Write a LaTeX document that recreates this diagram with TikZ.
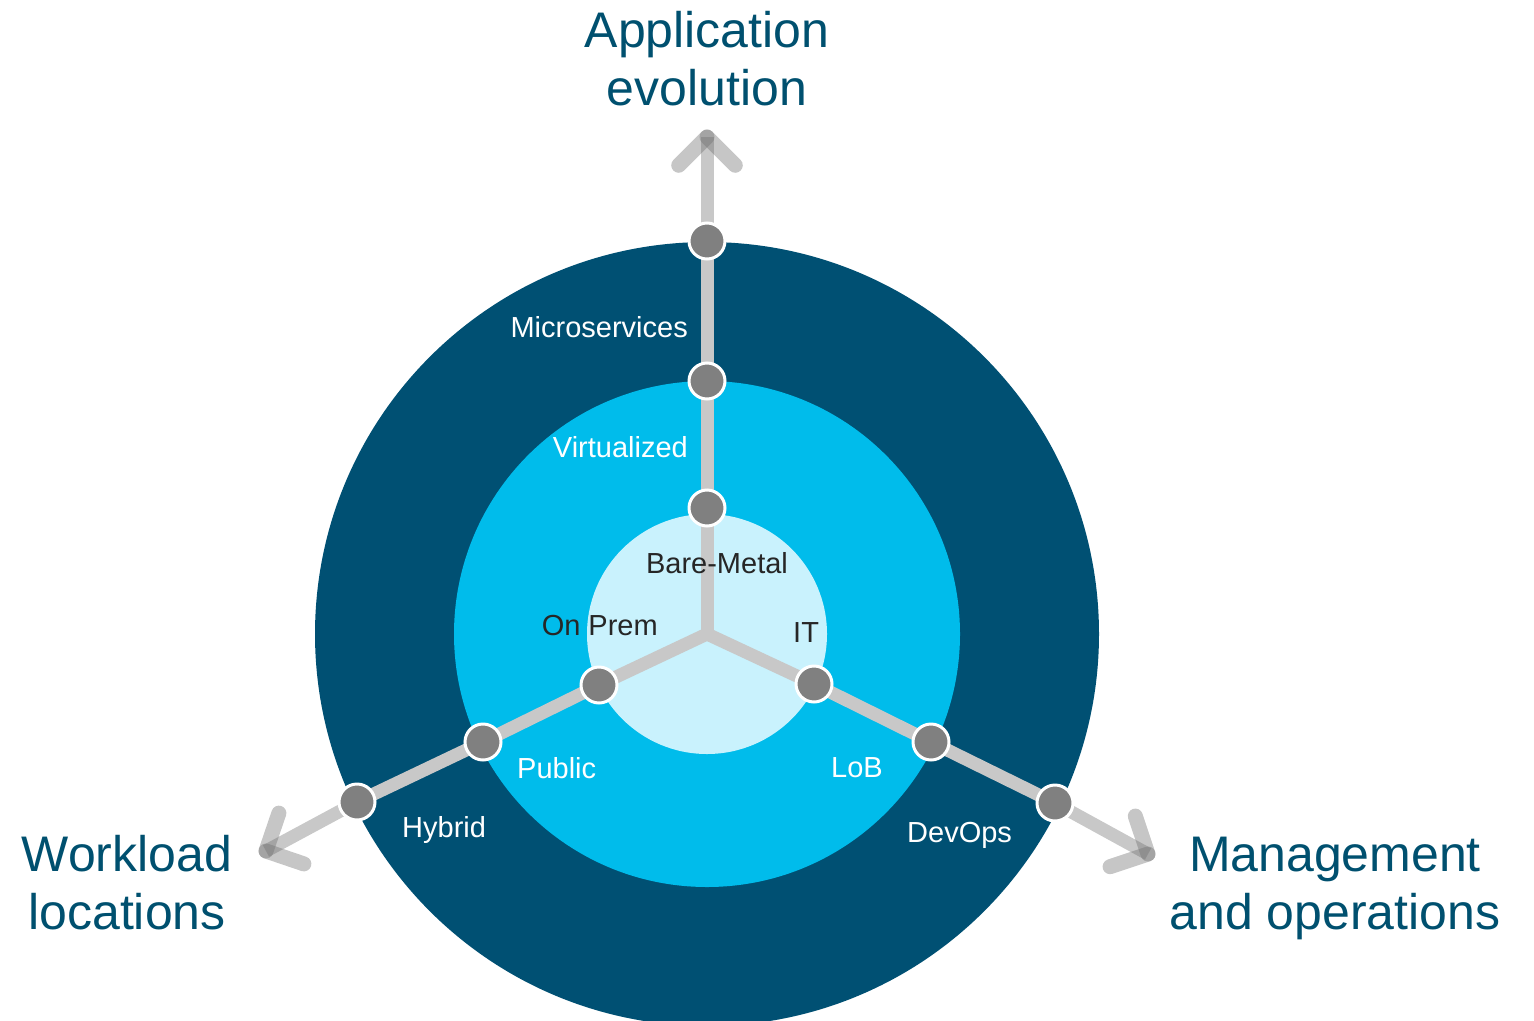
\documentclass[tikz,border=0pt]{standalone}
\usepackage{fontspec}
\setmainfont{Liberation Sans}
\usetikzlibrary{calc}
\definecolor{outerblue}{HTML}{005073}
\definecolor{midblue}{HTML}{00BCEB}
\definecolor{innerblue}{HTML}{C9F2FD}
\definecolor{shaftgray}{HTML}{C8C8C8}
\definecolor{headgray}{HTML}{707070}
\definecolor{dotgray}{HTML}{808080}
\definecolor{titleblue}{HTML}{00506F}
\definecolor{darktext}{HTML}{262626}
\begin{document}
\begin{tikzpicture}[x=1pt,y=-1pt,
  shaft/.style={draw=shaftgray, line width=13pt, line join=round},
  headstroke/.style={draw=headgray, draw opacity=0.4, line width=15pt, line cap=round},
  dot/.style={circle, fill=dotgray, draw=white, line width=3pt, minimum size=36pt, inner sep=0pt},
  title/.style={text=titleblue, font=\fontsize{50}{58}\selectfont, align=center, inner sep=0pt},
  lbl/.style={font=\fontsize{29}{34}\selectfont, inner sep=0pt},
  lightlbl/.style={lbl, text=white},
  darklbl/.style={lbl, text=darktext}]
\useasboundingbox (0,0) rectangle (1534,1020);
\clip (0,0) rectangle (1534,1020);
% rings
\fill[outerblue] (707,634) circle[radius=392pt];
\fill[midblue] (707,634) circle[radius=253pt];
\fill[innerblue] (707,634) circle[radius=120pt];
% coordinates
\coordinate (c) at (707,634);
\coordinate (tt) at (707,137);
\coordinate (tl) at (266,851);
\coordinate (tr) at (1148,854);
\coordinate (pT1) at (707,508);
\coordinate (pT2) at (707,381);
\coordinate (pT3) at (707,241);
\coordinate (pL1) at (599,685);
\coordinate (pL2) at (483,742);
\coordinate (pL3) at (357,802);
\coordinate (pR1) at (814,684);
\coordinate (pR2) at (931,742);
\coordinate (pR3) at (1055,803);
% shafts
\draw[shaft] (c) -- (pT1) -- (pT2) -- (pT3) -- (tt);
\draw[shaft] (c) -- (pL1) -- (pL2) -- (pL3) -- (tl);
\draw[shaft] (c) -- (pR1) -- (pR2) -- (pR3) -- (tr);
% arrow heads
\draw[headstroke] (tt) -- ($(tt)!40pt!45:(c)$);
\draw[headstroke] (tt) -- ($(tt)!40pt!-45:(c)$);
\draw[headstroke] (tl) -- ($(tl)!40pt!45:(c)$);
\draw[headstroke] (tl) -- ($(tl)!40pt!-45:(c)$);
\draw[headstroke] (tr) -- ($(tr)!40pt!45:(c)$);
\draw[headstroke] (tr) -- ($(tr)!40pt!-45:(c)$);
% dots
\node[dot] (T1) at (pT1) {};
\node[dot] (T2) at (pT2) {};
\node[dot] (T3) at (pT3) {};
\node[dot] (L1) at (pL1) {};
\node[dot] (L2) at (pL2) {};
\node[dot] (L3) at (pL3) {};
\node[dot] (R1) at (pR1) {};
\node[dot] (R2) at (pR2) {};
\node[dot] (R3) at (pR3) {};
% labels
\node[lightlbl, anchor=base east] (micro) at (688,337) {Microservices};
\node[lightlbl, anchor=base east] (virt) at (688,457) {Virtualized};
\node[darklbl, anchor=base] (bare) at (717,573) {Bare-Metal};
\node[darklbl, anchor=base east] (onprem) at (658,635) {On Prem};
\node[darklbl, anchor=base west] (it) at (793,642) {IT};
\node[lightlbl, anchor=base west] (public) at (517,778) {Public};
\node[lightlbl, anchor=base west] (lob) at (831,777) {LoB};
\node[lightlbl, anchor=base west] (hybrid) at (402,837) {Hybrid};
\node[lightlbl, anchor=base west] (devops) at (907,842) {DevOps};
% titles (base anchor = last line baseline)
\node[title, anchor=base] (app) at (707,105) {Application\\evolution};
\node[title, anchor=base] (work) at (127,929) {Workload\\locations};
\node[title, anchor=base] (mgmt) at (1335,929) {Management\\and operations};
\end{tikzpicture}
\end{document}
